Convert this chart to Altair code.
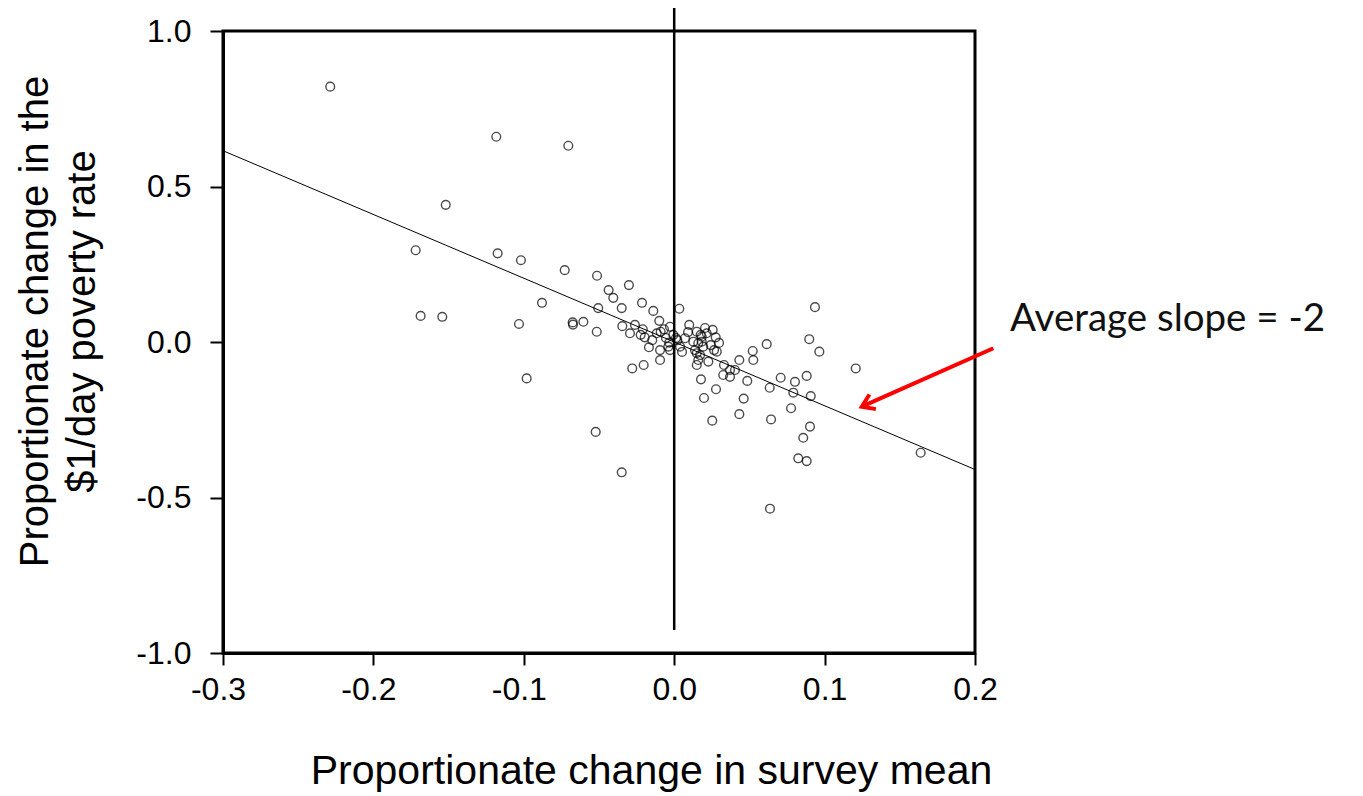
import altair as alt
import pandas as pd

# Scatter data: proportionate change in survey mean (x) vs change in $1/day poverty rate (y)
mean_change = [
    -0.2287, -0.1183, -0.0704, -0.1519, -0.1719, -0.1174, -0.1019, -0.0728, -0.0513, -0.0301,
    -0.0436, -0.0405, -0.0349, -0.0214, -0.0139, -0.0099, -0.0879, -0.0505, -0.1686, -0.1542,
    -0.1032, -0.0675, -0.0673, -0.0604, -0.0515, -0.0345, -0.0261, -0.0294, -0.0209, -0.0196,
    -0.0168, -0.0094, -0.0094, -0.0068, -0.0028, -0.0033, -0.0028, -0.0981, -0.0279, -0.0203,
    -0.0522, -0.0349, -0.0223, -0.0146, -0.0090, -0.0116, -0.0039, -0.0006, 0.0012, -0.0055,
    0.0034, 0.0021, 0.0039, 0.0072, 0.0100, 0.0150, 0.0183, 0.0216, 0.0256, 0.0276,
    0.0160, 0.0193, 0.0243, 0.0265, 0.0283, 0.0150, 0.0160, 0.0150, 0.0227, 0.0331,
    0.0326, 0.0371, 0.0404, 0.0433, 0.0522, 0.0526, 0.0615, 0.0486, 0.0635, 0.0708,
    0.0803, 0.0881, 0.0792, 0.0908, 0.0936, 0.0898, 0.0965, 0.0178, 0.0278, 0.0198,
    0.0462, 0.0433, 0.0253, 0.0644, 0.0777, 0.0903, 0.0858, 0.0825, 0.0881, 0.1207,
    0.0637, 0.1639, 0.0176, 0.0127, 0.0183, 0.0138, 0.0172, 0.0371, 0.0092, 0.0205,
    0.0298, 0.0052,
]
poverty_change = [
    0.821, 0.660, 0.631, 0.441, 0.295, 0.285, 0.263, 0.231, 0.213, 0.183,
    0.167, 0.142, 0.109, 0.126, 0.100, 0.068, 0.126, 0.109, 0.084, 0.081,
    0.058, 0.063, 0.056, 0.065, 0.033, 0.051, 0.055, 0.028, 0.041, 0.015,
    -0.017, -0.026, -0.058, 0.041, 0.049, -0.002, -0.026, -0.117, -0.085, -0.074,
    -0.289, -0.419, 0.023, 0.006, 0.033, 0.028, -0.015, 0.023, 0.013, 0.013,
    0.107, 0.006, -0.015, 0.012, 0.055, 0.033, 0.017, 0.028, 0.039, 0.015,
    -0.004, -0.015, -0.010, -0.026, -0.031, -0.036, -0.058, -0.074, -0.063, -0.074,
    -0.106, -0.112, -0.090, -0.058, -0.029, -0.058, -0.007, -0.125, -0.147, -0.115,
    -0.128, -0.109, -0.163, -0.174, 0.112, 0.009, -0.031, -0.120, -0.152, -0.180,
    -0.182, -0.232, -0.253, -0.249, -0.213, -0.272, -0.308, -0.374, -0.383, -0.085,
    -0.536, -0.356, 0.023, 0.001, 0.001, -0.026, -0.042, -0.090, 0.032, 0.045,
    -0.003, -0.032,
]

# Fitted line (average slope about -2)
fit_x = [-0.3, 0.2]
fit_y = [0.615, -0.41]

# Vertical reference line at zero growth
zero_x = [0.0]
zero_y_top = [1.077]
zero_y_bottom = [-0.926]

# Annotation
note_text = ["Average slope = -2"]
note_x = [0.2233]
note_y = [0.0354]
arrow_x_start = [0.2122]
arrow_y_start = [-0.020]
arrow_x_end = [0.1247]
arrow_y_end = [-0.208]

x_ticks = [-0.3, -0.2, -0.1, 0.0, 0.1, 0.2]
y_ticks = [-1.0, -0.5, 0.0, 0.5, 1.0]

pts = pd.DataFrame({"x": mean_change, "y": poverty_change})
fit = pd.DataFrame({"x": fit_x, "y": fit_y})
zero = pd.DataFrame({"x": zero_x, "y": zero_y_top, "y2": zero_y_bottom})
note = pd.DataFrame({"x": note_x, "y": note_y, "t": note_text})
arrow = pd.DataFrame({"x": arrow_x_start, "y": arrow_y_start,
                      "x2": arrow_x_end, "y2": arrow_y_end})

FONT = "Liberation Sans"
label_expr = "(datum.value < 0 ? '-' : '') + format(abs(datum.value), '.1f')"

xs = alt.Scale(domain=[-0.3, 0.2], nice=False, zero=False)
ys = alt.Scale(domain=[-1.0, 1.0], nice=False, zero=False)

x_axis = alt.Axis(
    values=x_ticks, labelExpr=label_expr, title="Proportionate change in survey mean",
    grid=False, labelFont=FONT, labelFontSize=32, labelColor="black",
    labelFlush=False, labelOverlap=False,
    labelPadding=9, tickSize=12, tickWidth=2, tickColor="black",
    domainColor="black", domainWidth=3,
    labelOffset={"condition": {"test": "datum.value < 0", "value": -5}, "value": 0},
    titleFont=FONT, titleFontSize=41, titleFontWeight="normal", titleColor="black",
    titleX=428, titleY=130, titleAlign="center", titleBaseline="alphabetic",
)
y_axis = alt.Axis(
    values=y_ticks, labelExpr=label_expr,
    title=["Proportionate change in the", "$1/day poverty rate"],
    grid=False, labelFont=FONT, labelFontSize=32, labelColor="black",
    labelFlush=False, labelOverlap=False,
    labelPadding=19, tickSize=13, tickWidth=2, tickColor="black",
    domainColor="black", domainWidth=3,
    titleFont=FONT, titleFontSize=40, titleFontWeight="normal", titleColor="black",
    titleX=-208, titleY=290, titleAlign="center", titleBaseline="top",
    titleAngle=270, titleLineHeight=47,
)

X = lambda f: alt.X(f, scale=xs, axis=x_axis)
Y = lambda f: alt.Y(f, scale=ys, axis=y_axis)

points = alt.Chart(pts).mark_point(
    shape="circle", filled=False, color="black", size=76, strokeWidth=1.4
).encode(x=X("x:Q"), y=Y("y:Q"))

fit_line = alt.Chart(fit).mark_line(color="black", strokeWidth=1).encode(
    x=X("x:Q"), y=Y("y:Q")
)

zero_line = alt.Chart(zero).mark_rule(color="black", strokeWidth=2.5).encode(
    x=X("x:Q"), y=Y("y:Q"), y2="y2:Q"
)

arrow_shaft = alt.Chart(arrow).mark_rule(color="red", strokeWidth=4).encode(
    x=X("x:Q"), y=Y("y:Q"), x2="x2:Q", y2="y2:Q"
)

arrow_head = alt.Chart(arrow).mark_point(
    shape="M -0.8 1.2 L 0 0 L 0.8 1.2", filled=False, color="red",
    strokeWidth=4, size=400, angle=246, opacity=1,
).encode(x=X("x2:Q"), y=Y("y2:Q"))

note_mark = alt.Chart(note).mark_text(
    align="left", baseline="alphabetic", font="Lato", fontSize=38.5, color="#111111"
).encode(x=X("x:Q"), y=Y("y:Q"), text="t:N")

chart = alt.layer(
    zero_line, fit_line, points, arrow_shaft, arrow_head, note_mark
).properties(
    width=752, height=622,
    autosize=alt.AutoSizeParams(type="none"),
    padding={"left": 215, "top": 23, "right": 372, "bottom": 140},
    background="white",
).configure_view(
    stroke="black", strokeWidth=3
)

chart.save("out.html", embed_options={"renderer": "svg", "actions": False})
